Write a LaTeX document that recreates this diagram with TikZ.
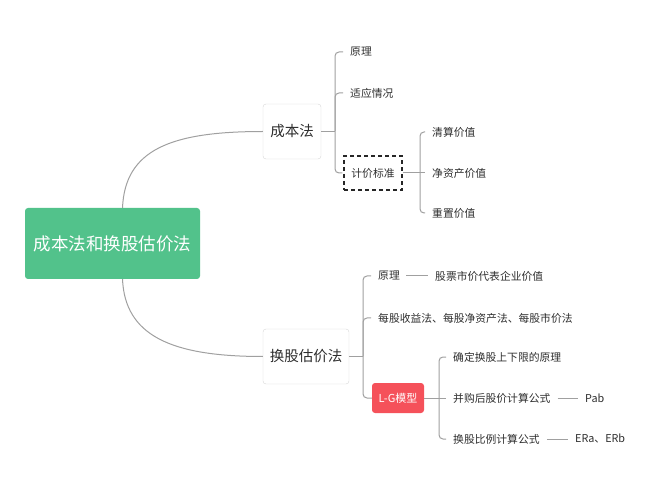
\documentclass[tikz,border=0pt]{standalone}
\usepackage{fontspec}
\setmainfont{Noto Sans CJK SC}
\definecolor{rootgreen}{HTML}{52C28B}
\definecolor{lgred}{HTML}{F5515A}
\definecolor{txt}{HTML}{2E2E2E}
\definecolor{ln}{HTML}{A0A0A0}
\definecolor{bd}{HTML}{D6D6D6}
\tikzset{
  rootbox/.style={draw=none,fill=rootgreen,rounded corners=3pt,text=white,font=\fontsize{17.5}{20}\selectfont,minimum width=175pt,minimum height=71pt,inner sep=0pt},
  midbox/.style={draw=bd,fill=white,rounded corners=3pt,text=txt,font=\fontsize{14.5}{17}\selectfont,minimum height=55pt,inner sep=0pt},
  leaf/.style={text=txt,font=\fontsize{10.8}{13}\selectfont,inner sep=0pt,anchor=west},
  dashbox/.style={draw=black!85,dash pattern=on 4pt off 3pt,line width=1.3pt,text=txt,font=\fontsize{10.8}{13}\selectfont,minimum width=58pt,minimum height=34pt,inner sep=0pt},
  redbox/.style={fill=lgred,rounded corners=3pt,text=white,font=\fontsize{11}{13}\selectfont,minimum width=52pt,minimum height=30pt,inner sep=0pt},
  conn/.style={draw=ln,line width=1pt},
  br/.style={draw=ln,line width=1pt,rounded corners=4pt},
}
\begin{document}
\begin{tikzpicture}[x=1pt,y=-1pt]
\useasboundingbox (0,0) rectangle (657,492);
% nodes
\node[rootbox] (root) at (112.5,243.5) {成本法和换股估价法};
\node[midbox,minimum width=58pt] (cbf) at (292,131.5) {成本法};
\node[midbox,minimum width=86pt] (hg) at (306,356.5) {换股估价法};
\node[leaf] (yl1) at (350,52) {原理};
\node[leaf] (sy) at (350,93) {适应情况};
\node[dashbox] (jj) at (373,173) {计价标准};
\node[leaf] (qs) at (432,132) {清算价值};
\node[leaf] (jz) at (432,173) {净资产价值};
\node[leaf] (cz) at (432,213) {重置价值};
\node[leaf] (yl2) at (378,276) {原理};
\node[leaf] (gp) at (435,276) {股票市价代表企业价值};
\node[leaf] (mg) at (378,318) {每股收益法、每股净资产法、每股市价法};
\node[redbox] (lg) at (398,398) {L-G模型};
\node[leaf] (qd) at (453,357) {确定换股上下限的原理};
\node[leaf] (bg) at (453,398) {并购后股价计算公式};
\node[leaf] (pab) at (585,398) {Pab};
\node[leaf] (hb) at (453,439) {换股比例计算公式};
\node[leaf] (er) at (575,439) {ERa、ERb};
% root curves
\draw[conn] ([xshift=10pt]root.north) .. controls (125,150) and (170,131.5) .. (cbf.west);
\draw[conn] ([xshift=10pt]root.south) .. controls (125,335) and (170,356.5) .. (hg.west);
% cbf bracket
\coordinate (b1) at (335,131.5);
\draw[conn] (cbf.east) -- (b1);
\draw[br] (b1) |- ([xshift=-7pt]yl1.west);
\draw[br] (b1) |- ([xshift=-7pt]sy.west);
\draw[br] (b1) |- ([xshift=-1pt]jj.west);
% jj bracket
\coordinate (b2) at (420,173);
\draw[conn] (jj.east) -- ([xshift=-7pt]jz.west);
\draw[br] (b2) |- ([xshift=-7pt]qs.west);
\draw[br] (b2) |- ([xshift=-7pt]cz.west);
% hg bracket
\coordinate (b3) at (363,356.5);
\draw[conn] (hg.east) -- (b3);
\draw[br] (b3) |- ([xshift=-7pt]yl2.west);
\draw[br] (b3) |- ([xshift=-7pt]mg.west);
\draw[br] (b3) |- (lg.west);
\draw[conn] ([xshift=6pt]yl2.east) -- ([xshift=-7pt]gp.west);
% lg bracket
\coordinate (b4) at (439,398);
\draw[conn] (lg.east) -- ([xshift=-7pt]bg.west);
\draw[br] (b4) |- ([xshift=-7pt]qd.west);
\draw[br] (b4) |- ([xshift=-7pt]hb.west);
\draw[conn] ([xshift=7pt]bg.east) -- ([xshift=-7pt]pab.west);
\draw[conn] ([xshift=7pt]hb.east) -- ([xshift=-7pt]er.west);
\end{tikzpicture}
\end{document}
